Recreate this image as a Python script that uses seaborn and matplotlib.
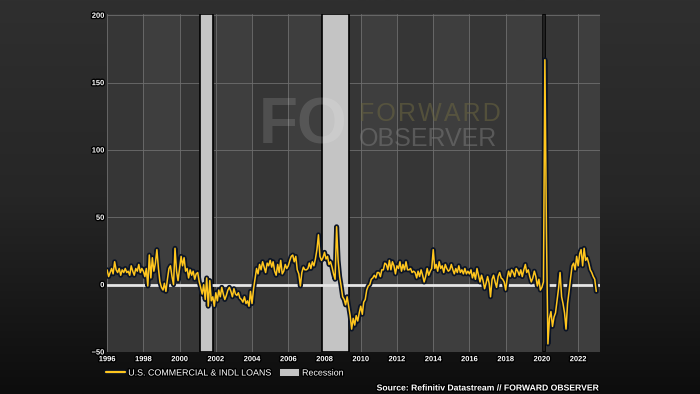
import numpy as np
import pandas as pd
import matplotlib
matplotlib.use("Agg")
import matplotlib.pyplot as plt
import matplotlib.dates as mdates
import matplotlib.patheffects as pe
from matplotlib.lines import Line2D
from matplotlib.patches import Patch
from matplotlib.colors import LinearSegmentedColormap
import seaborn as sns

# ===============================
# Datos: préstamos comerciales e industriales (variación anualizada, mensual)
# ===============================
loans_1996 = [11, 6, 9, 12, 8, 17, 11, 9, 12, 7, 11, 9]
loans_1997 = [12, 9, 10, 7, 14, 10, 7, 12, 10, 15, 9, 12]
loans_1998 = [10, 6, 12, -1, 22, 5, 20, 10, 16, 26, 12, 2]
loans_1999 = [-2, -4, 1, -5, 4, 12, 14, 6, 0, 27, 10, 3]
loans_2000 = [12, 21, 14, 20, 10, 12, 5, 11, 7, 10, 4, 8]
loans_2001 = [9, 2, -2, -7, 0, -11, 5, -16, 3, -12, -9, -16]
loans_2002 = [-6, -12, -4, -9, -2, -7, -11, -8, -4, -2, -5, -9]
loans_2003 = [-3, -7, -8, -6, -10, -11, -13, -9, -14, -12, -16, -5]
loans_2004 = [-14, -3, 4, 12, 8, 15, 11, 17, 13, 9, 16, 14]
loans_2005 = [18, 13, 17, 10, 7, 15, 9, 18, 8, 10, 15, 12]
loans_2006 = [14, 18, 21, 22, 17, 21, 11, 8, -1, 9, 13, 11]
loans_2007 = [11, 12, 16, 12, 17, 14, 19, 26, 37, 21, 18, 20]
loans_2008 = [24, 19, 21, 15, 17, 13, 8, 4, 43, 18, 6, -1]
loans_2009 = [-9, -11, -15, -9, -16, -23, -33, -25, -30, -23, -27, -21]
loans_2010 = [-16, -22, -13, -11, -4, -1, 0, 4, 5, 7, 5, 9]
loans_2011 = [9, 6, 11, 11, 16, 15, 11, 18, 11, 17, 14, 8]
loans_2012 = [14, 12, 17, 10, 15, 11, 17, 11, 11, 12, 9, 10]
loans_2013 = [9, 5, 10, 6, 11, 7, 2, 6, 12, 7, 10, 12]
loans_2014 = [26, 12, 15, 10, 17, 12, 14, 9, 15, 12, 10, 11]
loans_2015 = [15, 11, 8, 12, 9, 14, 9, 11, 8, 12, 8, 10]
loans_2016 = [8, 11, 5, 9, 4, 12, 7, 2, 7, 3, -3, 1]
loans_2017 = [6, 1, -9, 4, 7, 2, -2, 6, 9, 5, 4, 2]
loans_2018 = [-4, 5, 10, 6, 11, 9, 6, 12, 10, 7, 11, 6]
loans_2019 = [11, 15, 9, 11, 6, 2, 5, 10, 6, -1, 4, -4]
loans_2020 = [-2, 2, 167, 40, -44, -25, -20, -31, -24, -21, -12, -3]
loans_2021 = [9, -9, -14, -21, -33, -14, -5, 5, 14, 16, 11, 21]
loans_2022 = [14, 23, 26, 14, 27, 18, 20, 16, 11, 9, 6, 4]
loans_2023 = [-5]

loans = (loans_1996 + loans_1997 + loans_1998 + loans_1999 + loans_2000 + loans_2001
         + loans_2002 + loans_2003 + loans_2004 + loans_2005 + loans_2006 + loans_2007
         + loans_2008 + loans_2009 + loans_2010 + loans_2011 + loans_2012 + loans_2013
         + loans_2014 + loans_2015 + loans_2016 + loans_2017 + loans_2018 + loans_2019
         + loans_2020 + loans_2021 + loans_2022 + loans_2023)

fechas = pd.date_range("1996-01-01", periods=len(loans), freq="MS")
df = pd.DataFrame({"fecha": fechas, "loans": loans})

recesiones = [("2001-02-15", "2001-11-10"),
              ("2007-11-10", "2009-05-10"),
              ("2020-01-15", "2020-03-01")]

y_ticks = [-50, 0, 50, 100, 150, 200]

# ===============================
# Estilo
# ===============================
sns.set_style("dark")
plt.rcParams["font.family"] = ["Liberation Sans", "DejaVu Sans"]

fig = plt.figure(figsize=(7, 3.94), dpi=100)

# fondo con degradado
bg = fig.add_axes([0, 0, 1, 1], zorder=-10)
grad = np.linspace(0, 1, 256)[:, None]
bg.imshow(grad, cmap=LinearSegmentedColormap.from_list("bg", ["#2f2f2f", "#262626", "#0d0d0d"]),
          aspect="auto", extent=[0, 1, 0, 1])
bg.axis("off")

ax = fig.add_axes([0.153, 0.1066, 0.704, 0.858])
ax.set_facecolor("#363636")

# franjas alternas cada dos años
for y0 in range(1998, 2023, 4):
    ax.axvspan(pd.Timestamp(f"{y0}-01-01"), pd.Timestamp(f"{y0 + 2}-01-01"),
               color="#3e3e3e", lw=0, zorder=0.2)

for ini, fin in recesiones:
    ax.axvspan(pd.Timestamp(ini), pd.Timestamp(fin), facecolor="#c4c4c4",
               edgecolor="black", lw=1.2, zorder=1)

ax.axhline(0, color="#e6e6e6", lw=2, zorder=1.5)

sns.lineplot(data=df, x="fecha", y="loans", color="#ffc61e", lw=1.1, ax=ax, zorder=3)
ax.lines[-1].set_path_effects([pe.Stroke(linewidth=3.6, foreground="#0b1426"), pe.Normal()])

ax.set_xlim(pd.Timestamp("1996-01-01"), pd.Timestamp("2023-03-15"))
ax.set_ylim(-50, 201)
ax.set_yticks(y_ticks)
ax.xaxis.set_major_locator(mdates.YearLocator(2))
ax.xaxis.set_major_formatter(mdates.DateFormatter("%Y"))
ax.set_xlabel("")
ax.set_ylabel("")

ax.grid(True, color="#6e6e6e", lw=0.6)
ax.set_axisbelow(True)
for s in ax.spines.values():
    s.set_visible(False)

ax.tick_params(axis="both", length=0, labelsize=5.4, colors="white", pad=2)
ax.tick_params(axis="x", pad=3)
halo = [pe.withStroke(linewidth=2, foreground="black")]
for lab in ax.get_xticklabels() + ax.get_yticklabels():
    lab.set_fontweight("bold")
    lab.set_path_effects(halo)

# marca de agua
fig.text(259 / 700, 1 - 126 / 394, "FO", fontsize=46, fontweight="bold",
         color="white", alpha=0.13, ha="left", va="center")
fig.text(359 / 700, 1 - 114 / 394, "F O R W A R D".replace(" ", "\u200a"), fontsize=18,
         color="#6b6640", alpha=0.55, ha="left", va="center")
fig.text(359 / 700, 1 - 139 / 394, "OBSERVER", fontsize=18,
         color="#777777", alpha=0.55, ha="left", va="center")

# leyenda
handles = [Line2D([], [], color="#ffc61e", lw=1.6,
                  path_effects=[pe.Stroke(linewidth=3.2, foreground="#0b1426"), pe.Normal()]),
           Patch(facecolor="#c4c4c4", edgecolor="none")]
leg = fig.legend(handles, ["U.S. COMMERCIAL & INDL LOANS", "Recession"],
                 loc="center left", bbox_to_anchor=(106 / 700, 1 - 373 / 394),
                 ncol=2, frameon=False, fontsize=6.4, handlelength=2.1,
                 handletextpad=0.4, columnspacing=0.9, borderpad=0, borderaxespad=0)
for t in leg.get_texts():
    t.set_color("white")
    t.set_path_effects(halo)

fig.text(600 / 700, 1 - 388 / 394, "Source: Refinitiv Datastream // FORWARD OBSERVER",
         ha="right", va="center", fontsize=6.2, fontweight="bold", color="white",
         path_effects=halo)

fig.savefig("out.png", dpi=100, facecolor=fig.get_facecolor())
